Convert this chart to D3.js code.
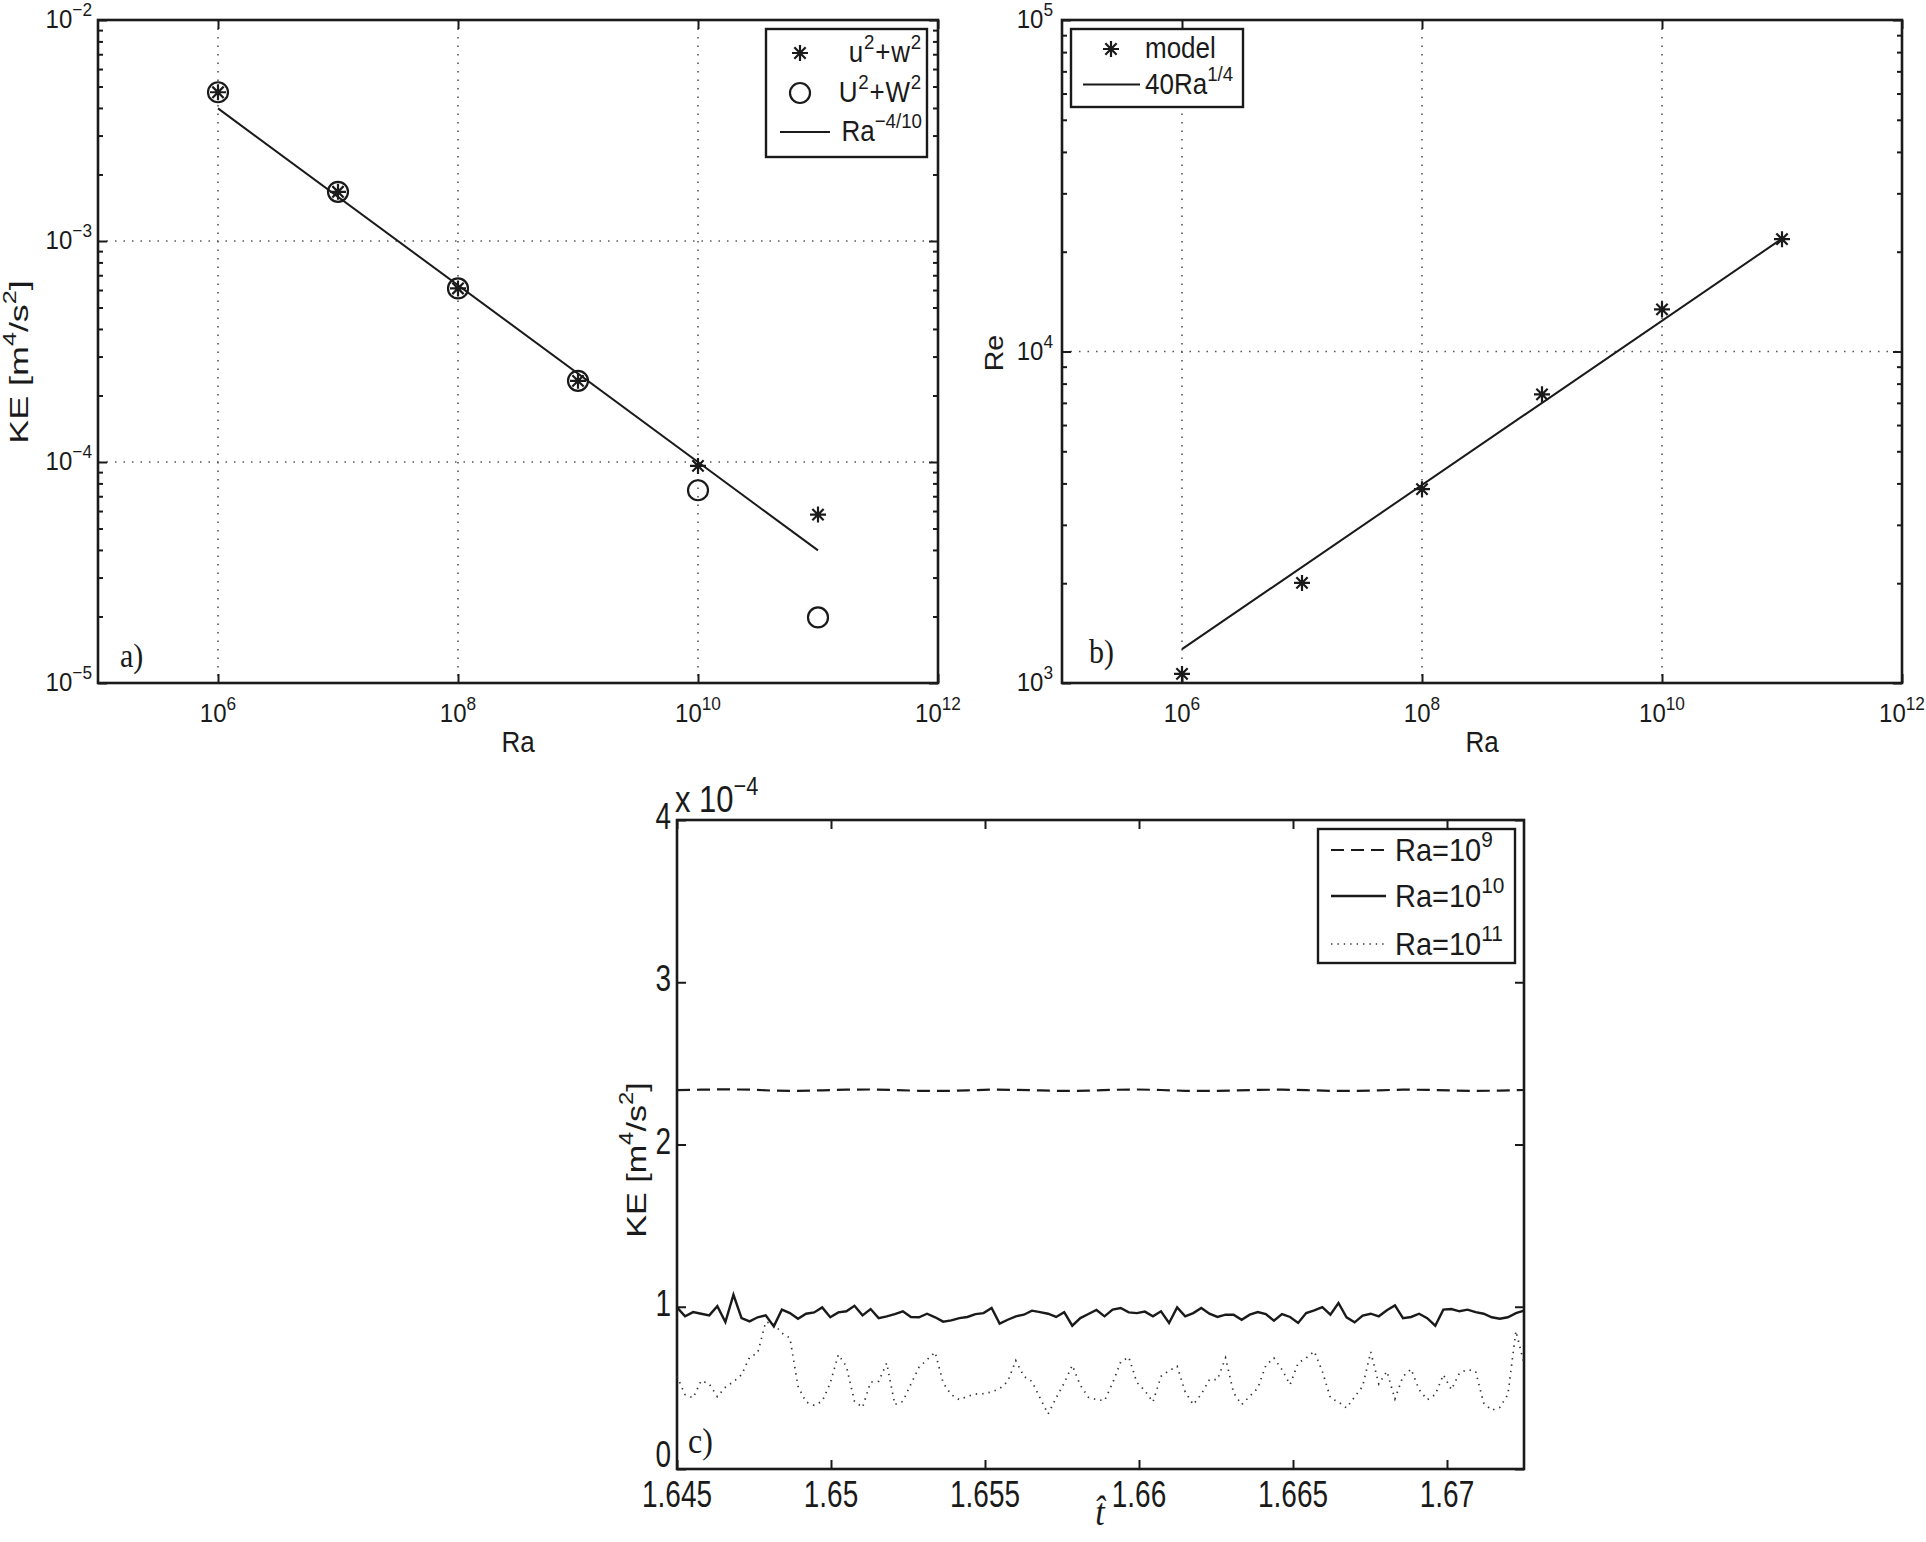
<!DOCTYPE html>
<html>
<head>
<meta charset="utf-8">
<script src="https://cdn.jsdelivr.net/npm/d3@7"></script>
<style>
  html, body { margin: 0; padding: 0; background: #fff; }
  svg { display: block; }
</style>
</head>
<body>
<svg id="chart" width="1926" height="1542"></svg>
<script>
// ---------------- DATA ----------------
// Panel a / b: Rayleigh numbers
const raValues = [1e6, 1e7, 1e8, 1e9, 1e10, 1e11];
// Panel a: kinetic energy
const keSmall = [4.71e-3, 1.67e-3, 6.1e-4, 2.33e-4, 9.6e-5, 5.78e-5];   // u^2+w^2
const keLarge = [4.71e-3, 1.67e-3, 6.1e-4, 2.33e-4, 7.45e-5, 1.98e-5];  // U^2+W^2
const fitA = [[1e6, 3.98e-3], [1e11, 3.98e-5]];                         // Ra^-4/10
// Panel b: Reynolds number
const reModel = [1065, 2004, 3843, 7426, 13400, 21820];
const fitB = [[1e6, 1265], [1e11, 21900]];                              // 40Ra^1/4
// Axis ticks
const logXTicks = [1e6, 1e8, 1e10, 1e12];
const keTicks = [1e-5, 1e-4, 1e-3, 1e-2];
const reTicks = [1e3, 1e4, 1e5];
const tTicks = [1.645, 1.65, 1.655, 1.66, 1.665, 1.67];
const tTickLabels = ["1.645", "1.65", "1.655", "1.66", "1.665", "1.67"];
const keCTicks = [0, 1, 2, 3, 4];
// Panel c: time series, KE in units of 1e-4 m^4/s^2, sampled uniformly over [tStart, tEnd]
const tStart = 1.645, tEnd = 1.6725;
const ke1e9 = [2.335,2.338,2.340,2.338,2.332,2.330,2.334,2.338,2.339,2.336,2.331,2.330,2.334,2.338,2.337,2.333,2.330,2.332,
               2.337,2.339,2.336,2.331,2.330,2.333,2.337,2.338,2.335,2.331,2.330,2.334,2.338,2.337,2.333,2.330,2.332,2.336];
const ke1e10 = [0.996,0.941,0.967,0.957,0.947,1.004,0.906,1.074,0.930,0.910,
                0.935,0.947,0.879,0.982,0.961,0.926,0.957,0.965,0.996,0.935,
                0.965,0.972,1.006,0.947,0.986,0.930,0.941,0.955,0.972,0.937,
                0.935,0.957,0.935,0.908,0.916,0.930,0.937,0.955,0.961,0.992,
                0.896,0.920,0.941,0.951,0.976,0.967,0.957,0.937,0.967,0.883,
                0.930,0.955,0.980,0.941,0.982,0.992,0.965,0.961,0.970,0.941,
                0.972,0.900,0.996,0.941,0.961,0.992,0.957,0.937,0.951,0.951,
                0.920,0.951,0.967,0.955,0.914,0.955,0.937,0.900,0.961,0.978,
                0.998,0.951,1.023,0.935,0.904,0.945,0.957,0.941,0.978,1.008,
                0.930,0.937,0.957,0.930,0.883,0.982,0.986,0.972,0.982,0.967,
                0.957,0.935,0.926,0.935,0.961,0.976];
const ke1e11 = [0.571,0.458,0.438,0.545,0.524,0.446,0.504,0.538,0.581,0.688,
                0.715,0.906,0.894,0.838,0.807,0.510,0.413,0.393,0.417,0.530,
                0.705,0.633,0.417,0.380,0.536,0.540,0.653,0.397,0.417,0.524,
                0.627,0.674,0.720,0.530,0.458,0.427,0.448,0.462,0.464,0.475,
                0.495,0.540,0.668,0.571,0.540,0.438,0.339,0.438,0.530,0.639,
                0.516,0.442,0.428,0.421,0.530,0.659,0.690,0.534,0.483,0.413,
                0.571,0.606,0.633,0.475,0.397,0.462,0.551,0.551,0.685,0.469,
                0.397,0.448,0.499,0.639,0.684,0.612,0.520,0.653,0.684,0.725,
                0.602,0.438,0.413,0.376,0.444,0.510,0.721,0.524,0.602,0.432,
                0.571,0.616,0.489,0.427,0.458,0.581,0.489,0.592,0.612,0.602,
                0.407,0.362,0.380,0.458,0.850,0.650];
const legendA = ["u^{2}+w^{2}", "U^{2}+W^{2}", "Ra^{−4/10}"];
const legendB = ["model", "40Ra^{1/4}"];
const legendC = ["Ra=10^{9}", "Ra=10^{10}", "Ra=10^{11}"];

// ---------------- HELPERS ----------------
const SANS = "'Liberation Sans', Arial, Helvetica, sans-serif";
const SERIF = "'Liberation Serif', 'Times New Roman', serif";
const INK = "#1a1a1a";
const svg = d3.select("#chart");
svg.append("rect").attr("width", 1926).attr("height", 1542).attr("fill", "#fff");

function parseRich(str) {
  const parts = [];
  const re = /\^\{([^}]*)\}/g;
  let last = 0, m;
  while ((m = re.exec(str)) !== null) {
    if (m.index > last) parts.push({ t: str.slice(last, m.index) });
    parts.push({ t: m[1], sup: true });
    last = re.lastIndex;
  }
  if (last < str.length) parts.push({ t: str.slice(last) });
  return parts;
}
function rich(parent, x, y, str, o) {
  o = Object.assign({ size: 23, anchor: "start", sy: 1, rotate: 0, family: SANS, supScale: 0.7, supRise: 0.45, italic: false, spacing: 0 }, o || {});
  const g = parent.append("g")
    .attr("transform", `translate(${x},${y}) scale(1,${o.sy})` + (o.rotate ? ` rotate(${o.rotate})` : ""));
  const t = g.append("text")
    .attr("text-anchor", o.anchor)
    .attr("font-family", o.family)
    .attr("font-size", o.size)
    .attr("letter-spacing", o.spacing)
    .attr("font-style", o.italic ? "italic" : "normal")
    .attr("fill", INK);
  let cur = 0;
  parseRich(str).forEach(p => {
    const target = p.sup ? -o.size * o.supRise : 0;
    t.append("tspan").attr("dy", target - cur)
      .attr("font-size", p.sup ? o.size * o.supScale : o.size)
      .text(p.t);
    cur = target;
  });
  return g;
}
function starPath(r) {
  const a = r * 0.7071;
  return `M${-r},0L${r},0M0,${-r}L0,${r}M${-a},${-a}L${a},${a}M${-a},${a}L${a},${-a}`;
}
function logMinor(lo, hi) {
  const out = [];
  for (let e = Math.round(Math.log10(lo)); e < Math.round(Math.log10(hi)); e++) {
    for (let k = 2; k <= 9; k++) out.push(k * Math.pow(10, e));
  }
  return out;
}
// Draw box, ticks (inward, all sides) via d3 axes
function frame(g, x, y, o) {
  const [x0, x1] = x.range(), [y1, y0] = y.range();
  const W = x1 - x0, H = y1 - y0;
  const tick = 9, minor = 5;
  const style = s => s.call(a => a.select(".domain").remove())
                     .call(a => a.selectAll("line").attr("stroke", INK).attr("stroke-width", 2))
                     .call(a => a.selectAll("text").remove());
  if (o.gridX) g.append("g").selectAll("line").data(o.gridX).join("line")
      .attr("x1", d => x(d)).attr("x2", d => x(d)).attr("y1", y0).attr("y2", y1)
      .attr("stroke", "#555").attr("stroke-width", 1.6).attr("stroke-dasharray", "1.5,7");
  if (o.gridY) g.append("g").selectAll("line").data(o.gridY).join("line")
      .attr("y1", d => y(d)).attr("y2", d => y(d)).attr("x1", x0).attr("x2", x1)
      .attr("stroke", "#555").attr("stroke-width", 1.6).attr("stroke-dasharray", "1.5,7");
  g.append("g").attr("transform", `translate(0,${y1})`).call(d3.axisBottom(x).tickValues(o.xTicks).tickSize(-tick).tickSizeOuter(0)).call(style);
  g.append("g").attr("transform", `translate(0,${y0})`).call(d3.axisTop(x).tickValues(o.xTicks).tickSize(-tick).tickSizeOuter(0)).call(style);
  g.append("g").attr("transform", `translate(${x0},0)`).call(d3.axisLeft(y).tickValues(o.yTicks).tickSize(-tick).tickSizeOuter(0)).call(style);
  g.append("g").attr("transform", `translate(${x1},0)`).call(d3.axisRight(y).tickValues(o.yTicks).tickSize(-tick).tickSizeOuter(0)).call(style);
  if (o.yMinor) {
    g.append("g").attr("transform", `translate(${x0},0)`).call(d3.axisLeft(y).tickValues(o.yMinor).tickSize(-minor).tickSizeOuter(0)).call(style);
    g.append("g").attr("transform", `translate(${x1},0)`).call(d3.axisRight(y).tickValues(o.yMinor).tickSize(-minor).tickSizeOuter(0)).call(style);
  }
  g.append("rect").attr("x", x0).attr("y", y0).attr("width", W).attr("height", H)
    .attr("fill", "none").attr("stroke", INK).attr("stroke-width", 2.6);
}

// ---------------- PANEL A ----------------
const xa = d3.scaleLog().domain([1e5, 1e12]).range([98, 938]);
const ya = d3.scaleLog().domain([1e-5, 1e-2]).range([683, 20]);
const gA = svg.append("g");
frame(gA, xa, ya, { xTicks: logXTicks, yTicks: keTicks, yMinor: logMinor(1e-5, 1e-2), gridX: [1e6, 1e8, 1e10], gridY: [1e-4, 1e-3] });
keTicks.forEach(v => rich(gA, 92, ya(v) + 8, "10^{" + "−" + (-Math.round(Math.log10(v))) + "}", { size: 24, anchor: "end", sy: 1.1, supScale: 0.72 }));
logXTicks.forEach(v => rich(gA, xa(v), 722, "10^{" + Math.round(Math.log10(v)) + "}", { size: 24, anchor: "middle", sy: 1.1, supScale: 0.72 }));
rich(gA, 518, 752, "Ra", { size: 26, anchor: "middle", sy: 1.1 });
rich(gA, 28, 362, "KE [m^{4}/s^{2}]", { size: 26, anchor: "middle", rotate: -90, sy: 1.38 });
rich(gA, 120, 667, "a)", { size: 30, family: SERIF, sy: 1.1 });
gA.append("path").datum(fitA)
  .attr("d", d3.line().x(d => xa(d[0])).y(d => ya(d[1])))
  .attr("fill", "none").attr("stroke", INK).attr("stroke-width", 2);
gA.append("g").selectAll("circle").data(raValues.map((r, i) => [r, keLarge[i]])).join("circle")
  .attr("cx", d => xa(d[0])).attr("cy", d => ya(d[1])).attr("r", 10)
  .attr("fill", "none").attr("stroke", INK).attr("stroke-width", 2.2);
gA.append("g").selectAll("path").data(raValues.map((r, i) => [r, keSmall[i]])).join("path")
  .attr("transform", d => `translate(${xa(d[0])},${ya(d[1])})`).attr("d", starPath(8))
  .attr("fill", "none").attr("stroke", INK).attr("stroke-width", 2.2);
const lgA = gA.append("g");
lgA.append("rect").attr("x", 766).attr("y", 29).attr("width", 161).attr("height", 128)
  .attr("fill", "#fff").attr("stroke", INK).attr("stroke-width", 2.4);
const lgAy = [53, 93, 132];
lgA.append("path").attr("transform", `translate(800,${lgAy[0]})`).attr("d", starPath(8)).attr("fill", "none").attr("stroke", INK).attr("stroke-width", 2.2);
lgA.append("circle").attr("cx", 800).attr("cy", lgAy[1]).attr("r", 10).attr("fill", "none").attr("stroke", INK).attr("stroke-width", 2.2);
lgA.append("line").attr("x1", 780).attr("x2", 830).attr("y1", lgAy[2]).attr("y2", lgAy[2]).attr("stroke", INK).attr("stroke-width", 2);
legendA.forEach((s, i) => rich(lgA, 922, lgAy[i] + 9, s, { size: 26, anchor: "end", sy: 1.1, supScale: 0.72, spacing: i < 2 ? 0.8 : 0 }));

// ---------------- PANEL B ----------------
const xb = d3.scaleLog().domain([1e5, 1e12]).range([1062, 1902]);
const yb = d3.scaleLog().domain([1e3, 1e5]).range([683, 20]);
const gB = svg.append("g");
frame(gB, xb, yb, { xTicks: logXTicks, yTicks: reTicks, yMinor: logMinor(1e3, 1e5), gridX: [1e6, 1e8, 1e10], gridY: [1e4] });
reTicks.forEach(v => rich(gB, 1053, yb(v) + 8, "10^{" + Math.round(Math.log10(v)) + "}", { size: 24, anchor: "end", sy: 1.1, supScale: 0.72 }));
logXTicks.forEach(v => rich(gB, xb(v), 722, "10^{" + Math.round(Math.log10(v)) + "}", { size: 24, anchor: "middle", sy: 1.1, supScale: 0.72 }));
rich(gB, 1482, 752, "Ra", { size: 26, anchor: "middle", sy: 1.1 });
rich(gB, 1003, 353, "Re", { size: 26, anchor: "middle", rotate: -90, sy: 1.1 });
rich(gB, 1089, 663, "b)", { size: 30, family: SERIF, sy: 1.1 });
gB.append("path").datum(fitB)
  .attr("d", d3.line().x(d => xb(d[0])).y(d => yb(d[1])))
  .attr("fill", "none").attr("stroke", INK).attr("stroke-width", 2);
gB.append("g").selectAll("path").data(raValues.map((r, i) => [r, reModel[i]])).join("path")
  .attr("transform", d => `translate(${xb(d[0])},${yb(d[1])})`).attr("d", starPath(8))
  .attr("fill", "none").attr("stroke", INK).attr("stroke-width", 2.2);
const lgB = gB.append("g");
lgB.append("rect").attr("x", 1071).attr("y", 29).attr("width", 172).attr("height", 78)
  .attr("fill", "#fff").attr("stroke", INK).attr("stroke-width", 2.4);
lgB.append("path").attr("transform", "translate(1111,49)").attr("d", starPath(8)).attr("fill", "none").attr("stroke", INK).attr("stroke-width", 2.2);
lgB.append("line").attr("x1", 1083).attr("x2", 1140).attr("y1", 84.5).attr("y2", 84.5).attr("stroke", INK).attr("stroke-width", 2);
legendB.forEach((s, i) => rich(lgB, 1145, [49, 84.5][i] + 9, s, { size: 26, anchor: "start", sy: 1.1, supScale: 0.72 }));

// ---------------- PANEL C ----------------
const xc = d3.scaleLinear().domain([tStart, tEnd]).range([677, 1524]);
const yc = d3.scaleLinear().domain([0, 4]).range([1469, 820]);
const gC = svg.append("g");
frame(gC, xc, yc, { xTicks: tTicks, yTicks: keCTicks });
// the "0" label is nudged up slightly so it does not collide with the first x tick label
keCTicks.forEach(v => rich(gC, 671, yc(v) + (v === 0 ? -2 : 9), String(v), { size: 28, anchor: "end", sy: 1.32 }));
tTicks.forEach((v, i) => rich(gC, xc(v), 1507, tTickLabels[i], { size: 28, anchor: "middle", sy: 1.32 }));
rich(gC, 675, 812, "x 10^{−4}", { size: 31, anchor: "start", sy: 1.2 });
rich(gC, 646, 1160, "KE [m^{4}/s^{2}]", { size: 28, anchor: "middle", rotate: -90, sy: 1.22 });
rich(gC, 1100, 1525, "t\u0302", { size: 34, anchor: "middle", family: SERIF, italic: true, sy: 1.1 });
rich(gC, 688, 1453, "c)", { size: 32, family: SERIF, sy: 1.1 });
function series(vals) {
  const n = vals.length;
  return vals.map((v, i) => [tStart + (tEnd - tStart) * i / (n - 1), v]);
}
const lineC = d3.line().x(d => xc(d[0])).y(d => yc(d[1]));
gC.append("path").datum(series(ke1e11)).attr("d", lineC)
  .attr("fill", "none").attr("stroke", "#333").attr("stroke-width", 1.7).attr("stroke-dasharray", "1.4,5");
gC.append("path").datum(series(ke1e10)).attr("d", lineC)
  .attr("fill", "none").attr("stroke", INK).attr("stroke-width", 2.4).attr("stroke-linejoin", "miter");
gC.append("path").datum(series(ke1e9)).attr("d", lineC)
  .attr("fill", "none").attr("stroke", INK).attr("stroke-width", 2.2).attr("stroke-dasharray", "13,7");
const lgC = gC.append("g");
lgC.append("rect").attr("x", 1318).attr("y", 829).attr("width", 197).attr("height", 134)
  .attr("fill", "#fff").attr("stroke", INK).attr("stroke-width", 2.4);
const lgCy = [850, 896, 944];
const lgCdash = ["13,7", null, "1.4,5"];
const lgCw = [2.2, 2.4, 1.7];
lgCy.forEach((yy, i) => {
  const l = lgC.append("line").attr("x1", 1331).attr("x2", 1386).attr("y1", yy).attr("y2", yy)
    .attr("stroke", i === 2 ? "#333" : INK).attr("stroke-width", lgCw[i]);
  if (lgCdash[i]) l.attr("stroke-dasharray", lgCdash[i]);
  rich(lgC, 1395, yy + 11, legendC[i], { size: 29, anchor: "start", sy: 1.1, supScale: 0.72 });
});
</script>
</body>
</html>
